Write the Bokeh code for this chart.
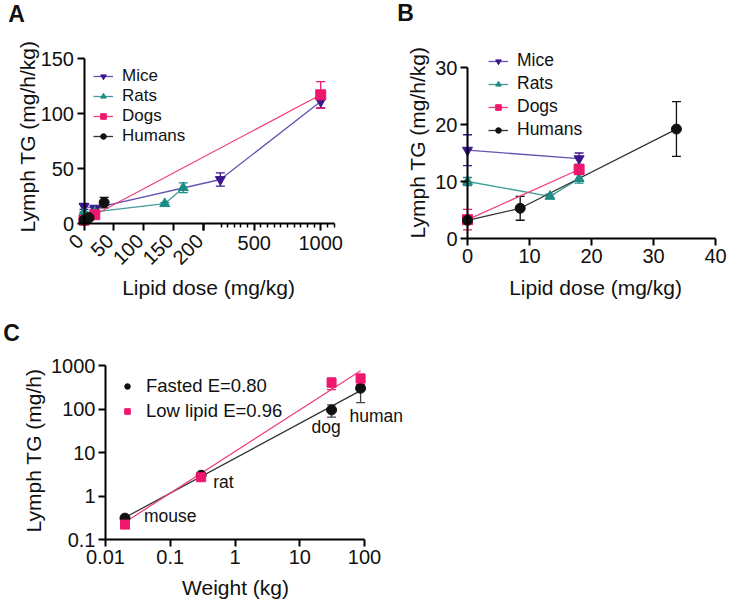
import numpy as np
from bokeh.plotting import figure
from bokeh.models import (ColumnDataSource, Whisker, TeeHead, FixedTicker, LinearAxis,
                          LogAxis, LogScale, CustomJSTickFormatter, Label, LabelSet, Range1d)
from bokeh.layouts import column, row
from bokeh.embed import file_html
from bokeh.resources import INLINE
from bokeh.core.properties import value

FONT = "Liberation Sans"

# ---------------- Panel A data (broken x axis) ----------------
A_mice_dose = [0, 18, 245, 1000]
A_mice_tg = [15.5, 14.0, 40.0, 111.0]
A_mice_err = [2.7, 1.0, 6.0, 6.0]
A_rats_dose = [0, 13.3, 18, 135, 166]
A_rats_tg = [10.0, 7.4, 10.5, 18.0, 32.5]
A_rats_err = [0.7, 0.4, 0.8, 1.0, 4.5]
A_dogs_dose = [0, 18, 1000]
A_dogs_tg = [3.0, 8.0, 117.0]
A_dogs_err = [1.8, 1.0, 12.0]
A_hum_dose = [0, 8.5, 33.7]
A_hum_tg = [3.2, 5.3, 19.0]
A_hum_err = [0.5, 2.1, 4.8]
A_ticks_low = [0, 50, 100, 150, 200]
A_ticks_high = [500, 1000]
A_yticks = [0, 50, 100, 150]

# ---------------- Panel B data ----------------
B_mice_dose = [0, 18]
B_mice_tg = [15.5, 14.0]
B_mice_err = [2.7, 1.0]
B_rats_dose = [0, 13.3, 18]
B_rats_tg = [10.0, 7.4, 10.5]
B_rats_err = [0.7, 0.4, 0.8]
B_dogs_dose = [0, 18]
B_dogs_tg = [3.3, 12.1]
B_dogs_err = [1.8, 0.9]
B_hum_dose = [0, 8.5, 33.7]
B_hum_tg = [3.2, 5.3, 19.2]
B_hum_err = [0.5, 2.1, 4.8]
B_xticks = [0, 10, 20, 30, 40]
B_yticks = [0, 10, 20, 30]

# ---------------- Panel C data ----------------
C_species = ["mouse", "rat", "dog", "human"]
C_weight = [0.02, 0.3, 31, 87]
C_fasted = [0.31, 3.0, 95, 300]
C_fasted_err = [0.03, 0.2, 30, 160]
C_low = [0.22, 2.7, 400, 500]
C_low_err = [0.02, 0.2, 120, 130]
C_fit_w = [0.02, 87]
C_fasted_fit = [0.32, 265]
C_low_fit = [0.25, 760]
C_xticks = [0.01, 0.1, 1, 10, 100]
C_yticks = [0.1, 1, 10, 100, 1000]

PURPLE_M, PURPLE_L = "#3c168c", "#6652b4"
TEAL_M, TEAL_L = "#1d8c85", "#3f9e98"
PINK_M, PINK_L = "#f0176e", "#ef3f80"
BLACK = "#111111"
TXT = "#111111"

STYLES = {
    "Mice": ("inverted_triangle", PURPLE_M, PURPLE_L),
    "Rats": ("triangle", TEAL_M, TEAL_L),
    "Dogs": ("square", PINK_M, PINK_L),
    "Humans": ("circle", BLACK, "#333333"),
}

TICK_FS = "20px"
LAB_FS = "21px"
LEG_FS = "17.5px"
LETTER_FS = "23px"


# ---- layout helpers: the frame fills each canvas; axes sit at fixed data locations
def lin_range(size, p0, v0, p1, v1):
    s = (p1 - p0) / (v1 - v0)
    start = v0 - p0 / s
    return Range1d(start, start + size / s)


def log_range(size, p0, v0, p1, v1):
    r = lin_range(size, p0, np.log10(v0), p1, np.log10(v1))
    return Range1d(10 ** r.start, 10 ** r.end)


def make_fig(w, h, xr, yr):
    p = figure(width=w, height=h, output_backend="svg", toolbar_location=None,
               x_range=xr, y_range=yr, min_border=0,
               x_axis_type=None, y_axis_type=None)
    p.grid.visible = False
    p.outline_line_color = None
    return p


def style_axis(ax):
    ax.axis_line_width = 2
    ax.axis_line_color = "black"
    ax.major_tick_line_width = 2
    ax.major_tick_line_color = "black"
    ax.major_tick_out = 7
    ax.major_tick_in = 0
    ax.minor_tick_in = 0
    ax.minor_tick_out = 4
    ax.minor_tick_line_width = 1.5
    ax.minor_tick_line_color = None
    ax.major_label_text_font = FONT
    ax.major_label_text_font_size = TICK_FS
    ax.major_label_text_color = TXT
    ax.major_label_standoff = 3


def add_axis(p, side, loc, bounds, ticks, log=False, minor=None, **kw):
    cls = LogAxis if log else LinearAxis
    tk = FixedTicker(ticks=ticks, minor_ticks=minor or [])
    ax = cls(fixed_location=loc, bounds=bounds, ticker=tk, **kw)
    style_axis(ax)
    if minor:
        ax.minor_tick_line_color = "black"
    p.add_layout(ax, side)
    return ax


def add_text(p, text, x, y, size=LAB_FS, angle=0.0, bold=False, align="center"):
    p.add_layout(Label(x=x, y=y, x_units="screen", y_units="screen", text=text,
                       angle=angle, text_font=FONT, text_font_size=size,
                       text_font_style="bold" if bold else "normal",
                       text_align=align, text_baseline="middle", text_color=TXT))


def add_errors(p, xs, ys, errs, color):
    src = ColumnDataSource(dict(x=xs, lo=[y - e for y, e in zip(ys, errs)],
                                hi=[y + e for y, e in zip(ys, errs)]))
    p.add_layout(Whisker(base="x", lower="lo", upper="hi", source=src, dimension="height",
                         line_color=color, line_width=1.3,
                         lower_head=TeeHead(size=9, line_color=color, line_width=1.3),
                         upper_head=TeeHead(size=9, line_color=color, line_width=1.3)))


def style_legend(p, loc, spacing, size=LEG_FS, line_height=1.2):
    lg = p.legend[0]
    lg.location = loc
    lg.background_fill_alpha = 0
    lg.border_line_color = None
    lg.padding = 0
    lg.margin = 0
    lg.spacing = spacing
    lg.glyph_width = 20
    lg.glyph_height = 14
    lg.label_height = 14
    lg.label_standoff = 9
    lg.label_text_font = FONT
    lg.label_text_font_size = size
    lg.label_text_line_height = line_height
    lg.label_text_color = TXT


def draw_series(p, series, xf=lambda v: v):
    for name, xs, ys, es in series:
        mk, mc, lc = STYLES[name]
        p.line([xf(v) for v in xs], ys, line_color=lc, line_width=1.3, legend_label=name)
    return [(name, [xf(v) for v in xs], ys, es) for name, xs, ys, es in series]


def draw_points(p, series):
    for name, xs, ys, es in series:
        mk, mc, lc = STYLES[name]
        add_errors(p, xs, ys, es, mc)
    for name, xs, ys, es in series:
        mk, mc, lc = STYLES[name]
        p.scatter(xs, ys, marker=mk, size=10, fill_color=mc, line_color=mc,
                  legend_label=name)


# ================= Panel A =================
GAP = 18.0
K = 2.0 / 9.0


def brk(x):
    return x if x <= 200 else 200 + GAP + (x - 200) * K


WA, HA = 370, 300
pA = make_fig(WA, HA, lin_range(WA, 83.5, 0, 333.5, brk(1100)),
              lin_range(HA, HA - 223, 0, HA - 58, 150))
A_series = [
    ("Mice", A_mice_dose, A_mice_tg, A_mice_err),
    ("Rats", A_rats_dose, A_rats_tg, A_rats_err),
    ("Dogs", A_dogs_dose, A_dogs_tg, A_dogs_err),
    ("Humans", A_hum_dose, A_hum_tg, A_hum_err),
]
A_plot = draw_series(pA, A_series, brk)
pA.quad(left=[200], right=[brk(200)], bottom=[0.6], top=[150], fill_color="white",
        line_color=None)
draw_points(pA, A_plot)

add_axis(pA, "left", 0, (0, 150), A_yticks)
axA1 = add_axis(pA, "below", 0, (0, 200), A_ticks_low)
axA1.major_label_text_color = None
# rotated tick labels of the low segment
low_src = ColumnDataSource(dict(x=A_ticks_low, y=[0] * len(A_ticks_low),
                                t=[str(v) for v in A_ticks_low]))
pA.add_layout(LabelSet(x="x", y="y", text="t", source=low_src, angle=np.pi / 4,
                       x_offset=-4, y_offset=-14, text_align="right",
                       text_baseline="middle", text_font=value(FONT),
                       text_font_size=value(TICK_FS), text_color=TXT))
hi_pos = [brk(200)] + [brk(v) for v in A_ticks_high]
hi_lab = [""] + [str(v) for v in A_ticks_high]
hi_minor = [brk(v) for v in range(250, 1101, 50) if v not in A_ticks_high]
axA2 = add_axis(pA, "below", 0, (brk(200), brk(1100)), hi_pos, minor=hi_minor,
                formatter=CustomJSTickFormatter(args=dict(pos=hi_pos, lab=hi_lab), code="""
                    let b = 0;
                    for (let i = 0; i < pos.length; i++)
                        if (Math.abs(pos[i] - tick) < Math.abs(pos[b] - tick)) b = i;
                    return lab[b];"""))
axA2.major_label_standoff = 5

add_text(pA, "Lymph TG (mg/h/kg)", 27, HA - 136, angle=np.pi / 2)
add_text(pA, "Lipid dose (mg/kg)", 208, HA - 287)
add_text(pA, "A", 16, HA - 13, size=LETTER_FS, bold=True)
style_legend(pA, (93, 154), 0, size="17px", line_height=1.0)

# ================= Panel B =================
WB, HB = 369, 300
pB = make_fig(WB, HB, lin_range(WB, 97, 0, 345, 40),
              lin_range(HB, HB - 238, 0, HB - 67, 30))
B_series = [
    ("Mice", B_mice_dose, B_mice_tg, B_mice_err),
    ("Rats", B_rats_dose, B_rats_tg, B_rats_err),
    ("Dogs", B_dogs_dose, B_dogs_tg, B_dogs_err),
    ("Humans", B_hum_dose, B_hum_tg, B_hum_err),
]
B_plot = draw_series(pB, B_series)
draw_points(pB, B_plot)
add_axis(pB, "left", 0, (0, 30), B_yticks)
add_axis(pB, "below", 0, (0, 40), B_xticks)
add_text(pB, "Lymph TG (mg/h/kg)", 47, HB - 142, angle=np.pi / 2)
add_text(pB, "Lipid dose (mg/kg)", 225, HB - 287)
add_text(pB, "B", 35, HB - 12, size=LETTER_FS, bold=True)
style_legend(pB, (118, 160), 2)

# ================= Panel C =================
WC, HC = 420, 307
pC = make_fig(WC, HC, log_range(WC, 105, 0.01, 364, 100),
              log_range(HC, HC - 239, 0.1, HC - 65, 1000))
pC.x_scale = LogScale()
pC.y_scale = LogScale()
pC.line(C_fit_w, C_fasted_fit, line_color="#333333", line_width=1.3)
pC.line(C_fit_w, C_low_fit, line_color=PINK_L, line_width=1.3)
add_errors(pC, C_weight, C_fasted, C_fasted_err, "#444444")
add_errors(pC, C_weight, C_low, C_low_err, PINK_M)
pC.scatter(C_weight, C_fasted, marker="circle", size=10, fill_color=BLACK,
           line_color=BLACK, legend_label="Fasted E=0.80")
pC.scatter(C_weight, C_low, marker="square", size=9, fill_color=PINK_M,
           line_color=PINK_M, legend_label="Low lipid E=0.96")
lab_src = ColumnDataSource(dict(x=C_weight, y=C_fasted, t=C_species,
                                dx=[19, 12, -20, -11], dy=[2, -7, -17, -28]))
pC.add_layout(LabelSet(x="x", y="y", text="t", source=lab_src, x_offset="dx",
                       y_offset="dy", text_align="left", text_baseline="middle",
                       text_font=value(FONT), text_font_size=value("17.5px"),
                       text_color=TXT))
js_fmt = "return String(tick)"
add_axis(pC, "left", 0.01, (0.1, 1000), C_yticks, log=True,
         formatter=CustomJSTickFormatter(code=js_fmt))
add_axis(pC, "below", 0.1, (0.01, 100), C_xticks, log=True,
         formatter=CustomJSTickFormatter(code=js_fmt))
add_text(pC, "Lymph TG (mg/h)", 33, HC - 150, angle=np.pi / 2)
add_text(pC, "Weight (kg)", 235, HC - 287)
add_text(pC, "C", 11, HC - 32, size=LETTER_FS, bold=True)
style_legend(pC, (117, 185), 3, size="18.5px")

layout = column(row(pA, pB), pC)
open("out.html", "w").write(file_html(layout, INLINE))
